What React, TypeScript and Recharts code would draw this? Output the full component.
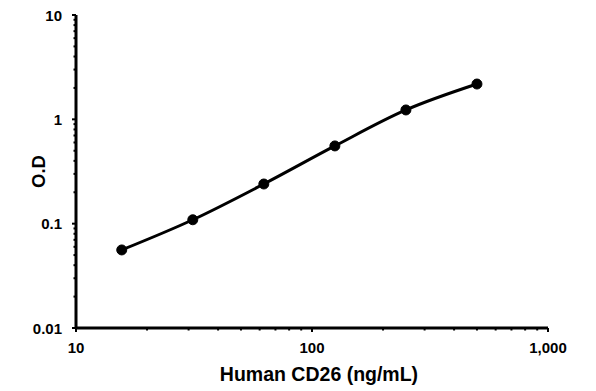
import React from 'react';
import { LineChart, Line, XAxis, YAxis } from 'recharts';

const concentrations = [15.625, 31.25, 62.5, 125, 250, 500];
const odValues = [0.056, 0.109, 0.24, 0.556, 1.23, 2.18];

const xMajorTicks = [10, 100, 1000];
const xMinorTicks = [20, 30, 40, 50, 60, 70, 80, 90, 200, 300, 400, 500, 600, 700, 800, 900];
const yMajorTicks = [0.01, 0.1, 1, 10];
const yMinorTicks = [0.02, 0.03, 0.04, 0.05, 0.06, 0.07, 0.08, 0.09, 0.2, 0.3, 0.4, 0.5, 0.6, 0.7, 0.8, 0.9, 2, 3, 4, 5, 6, 7, 8, 9];

const data = concentrations.map((c, i) => ({ conc: c, od: odValues[i] }));

const FONT = 'Arial, "Liberation Sans", sans-serif';

const fmtX = (v: number) => v.toLocaleString('en-US');
const fmtY = (v: number) => String(v);

const XTick = (props: any) => {
  const { x, y, payload } = props;
  const major = xMajorTicks.includes(payload.value);
  return (
    <g>
      <line x1={x} x2={x} y1={y} y2={y + (major ? 4 : 2.5)} stroke="#000" strokeWidth={2} />
      {major && (
        <text x={x} y={y + 25} textAnchor="middle" fontFamily={FONT} fontWeight="bold" fontSize={15} fill="#000">
          {fmtX(payload.value)}
        </text>
      )}
    </g>
  );
};

const YTick = (props: any) => {
  const { x, y, payload } = props;
  const major = yMajorTicks.includes(payload.value);
  return (
    <g>
      <line x1={x} x2={x - (major ? 4 : 2.5)} y1={y} y2={y} stroke="#000" strokeWidth={2} />
      {major && (
        <text x={x - 14} y={y + 5.5} textAnchor="end" fontFamily={FONT} fontWeight="bold" fontSize={15} fill="#000">
          {fmtY(payload.value)}
        </text>
      )}
    </g>
  );
};

export default function App() {
  return (
    <div style={{ position: 'absolute', left: 0, top: 0, width: 596, height: 391, background: '#fff' }}>
      <LineChart width={596} height={391} data={data} margin={{ top: 15, right: 48, bottom: 0, left: 0 }}>
        <XAxis
          dataKey="conc"
          type="number"
          scale="log"
          domain={[10, 1000]}
          allowDataOverflow
          ticks={[...xMajorTicks, ...xMinorTicks]}
          interval={0}
          tick={<XTick />}
          tickSize={0}
          tickMargin={0}
          height={63}
          axisLine={{ stroke: '#000', strokeWidth: 3 }}
          tickLine={false}
          label={{
            value: 'Human CD26 (ng/mL)',
            position: 'insideBottom',
            offset: 10,
            dx: 7,
            style: { fontFamily: FONT, fontWeight: 'bold', fontSize: 19.5, fill: '#000' },
          }}
        />
        <YAxis
          dataKey="od"
          type="number"
          scale="log"
          domain={[0.01, 10]}
          allowDataOverflow
          ticks={[...yMajorTicks, ...yMinorTicks]}
          interval={0}
          tick={<YTick />}
          tickSize={0}
          tickMargin={0}
          width={76}
          axisLine={{ stroke: '#000', strokeWidth: 3 }}
          tickLine={false}
          label={{
            value: 'O.D',
            angle: -90,
            position: 'insideLeft',
            offset: 38,
            style: { fontFamily: FONT, fontWeight: 'bold', fontSize: 18.5, fill: '#000', textAnchor: 'middle' },
          }}
        />
        <Line
          dataKey="od"
          type="monotone"
          stroke="#000"
          strokeWidth={3}
          dot={{ r: 5, fill: '#000', stroke: '#000', strokeWidth: 1 }}
          isAnimationActive={false}
        />
      </LineChart>
    </div>
  );
}
